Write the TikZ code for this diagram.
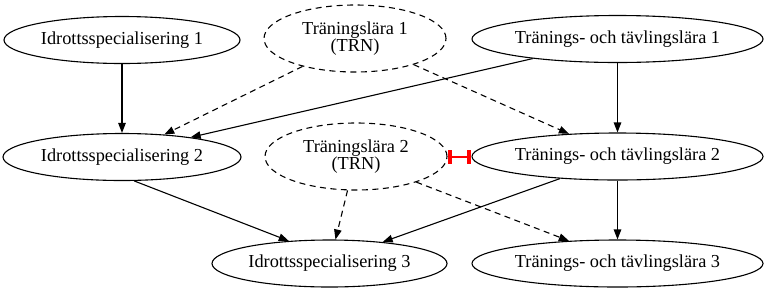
\documentclass[tikz,border=0pt]{standalone}
\usepackage{fontspec}
\setmainfont{Liberation Serif}
\usetikzlibrary{arrows.meta,shapes.geometric}

\begin{document}
\begin{tikzpicture}[x=1pt,y=-1pt,line width=1.1pt,
  every node/.style={font=\fontsize{18.3}{17}\selectfont},
  course/.style={ellipse,draw,inner sep=0pt,minimum height=47pt},
  trn/.style={course,dash pattern=on 6pt off 4.5pt,minimum width=182pt,minimum height=67pt,align=center},
  req/.style={-{Triangle[length=10pt,width=7.5pt]}},
  optreq/.style={req,dash pattern=on 6pt off 4.5pt},
  excl/.style={red,line width=2pt,{Rectangle[length=4pt,width=14pt]}-{Rectangle[length=4pt,width=14pt]}}]
\useasboundingbox (0,0) rectangle (768,293);
\node[course,minimum width=236pt] (Id1) at (122,40) {Idrottsspecialisering 1};
\node[trn] (Trn1) at (355,38.5) {Träningslära 1\\(TRN)};
\node[course,minimum width=291pt] (Ttl1) at (617.5,39) {Tränings- och tävlingslära 1};
\node[course,minimum width=238pt] (Id2) at (122,157) {Idrottsspecialisering 2};
\node[trn] (Trn2) at (356,156.5) {Träningslära 2\\(TRN)};
\node[course,minimum width=291pt] (Ttl2) at (617.5,156.5) {Tränings- och tävlingslära 2};
\node[course,minimum width=235pt] (Id3) at (329.5,263.5) {Idrottsspecialisering 3};
\node[course,minimum width=291pt] (Ttl3) at (617.5,263.5) {Tränings- och tävlingslära 3};
% row 1 to row 2
\draw[req] (Id1) -- (Id2);
\draw[optreq] (Trn1.208.3) -- (Id2.28);
\draw[req] (Ttl1.193.2) -- (Id2.16.7);
\draw[optreq] (Trn1.336.9) -- (Ttl2.155.6);
\draw[req] (Ttl1) -- (Ttl2);
% row 2 to row 3
\draw[req] (Id2.297) -- (Id3.151);
\draw[optreq] (Trn2.256.6) -- (Id3.76.8);
\draw[req] (Ttl2.201.4) -- (Id3.22.9);
\draw[optreq] (Trn2.337.3) -- (Ttl3.155.9);
\draw[req] (Ttl2) -- (Ttl3);
\draw[excl] (Trn2.east) -- (Ttl2.west);
\end{tikzpicture}
\end{document}
